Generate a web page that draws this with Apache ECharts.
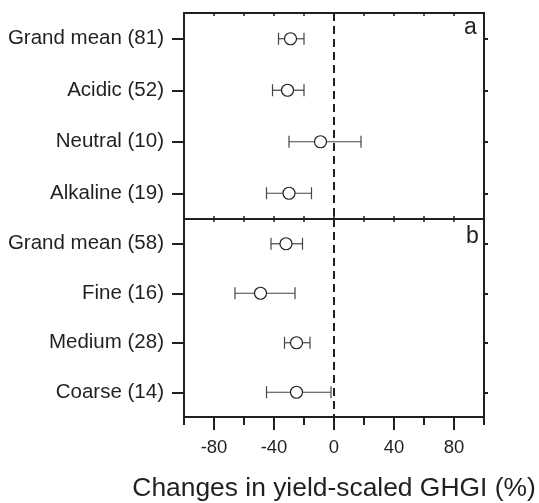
<!DOCTYPE html>
<html>
<head>
<meta charset="utf-8">
<script src="https://cdn.jsdelivr.net/npm/echarts@6/dist/echarts.min.js"></script>
<style>html,body{margin:0;padding:0;background:#fff}#c{width:539px;height:503px}</style>
</head>
<body>
<div id="c"></div>
<script>
// Panel a: soil pH
const catsA = ['Grand mean (81)', 'Acidic (52)', 'Neutral (10)', 'Alkaline (19)'];
const meanA = [-29, -31, -9, -30];
const lowA  = [-37, -41, -30, -45];
const highA = [-20, -20, 18, -15];
// Panel b: soil texture
const catsB = ['Grand mean (58)', 'Fine (16)', 'Medium (28)', 'Coarse (14)'];
const meanB = [-32, -49, -25, -25];
const lowB  = [-42, -66, -33, -45];
const highB = [-21, -26, -16, -2];
// x axis
const xMin = -100, xMax = 100;
const majorTicks = [-80, -40, 0, 40, 80];
const minorTicks = [-100, -60, -20, 20, 60, 100];
const xTitle = 'Changes in yield-scaled GHGI (%)';

const FONT = '"Liberation Sans", Arial, sans-serif';
const INK = '#231f20';

function errData(lo, hi) { return lo.map((l, i) => [i, l, hi[i]]); }
function errRender(params, api) {
  const c = api.value(0);
  const p1 = api.coord([api.value(1), c]);
  const p2 = api.coord([api.value(2), c]);
  const h = 6;
  const st = { stroke: '#444', lineWidth: 1.2 };
  return { type: 'group', children: [
    { type: 'line', shape: { x1: p1[0], y1: p1[1], x2: p2[0], y2: p2[1] }, style: st },
    { type: 'line', shape: { x1: p1[0], y1: p1[1] - h, x2: p1[0], y2: p1[1] + h }, style: st },
    { type: 'line', shape: { x1: p2[0], y1: p2[1] - h, x2: p2[0], y2: p2[1] + h }, style: st }
  ]};
}
const lineStyle = { color: INK, width: 2 };
function xAx(grid, pos, extra) {
  return Object.assign({
    type: 'value', gridIndex: grid, position: pos, min: xMin, max: xMax, interval: 20,
    axisLine: { show: true, onZero: false, lineStyle },
    axisTick: { show: true, inside: true, length: 3, lineStyle: { color: INK, width: 1.5 } },
    axisLabel: { show: false }, splitLine: { show: false }
  }, extra);
}
function yAx(grid, cats, pos, extra) {
  return Object.assign({
    type: 'category', gridIndex: grid, position: pos, data: cats, inverse: true, boundaryGap: true,
    axisLine: { show: true, onZero: false, lineStyle },
    axisTick: { show: true, alignWithLabel: true, length: pos === 'left' ? 12 : 4, lineStyle: { color: INK, width: 2 } },
    axisLabel: { show: pos === 'left', fontFamily: FONT, fontSize: 20.5, color: INK, margin: 20 },
    splitLine: { show: false }
  }, extra);
}

const chart = echarts.init(document.getElementById('c'), null, { renderer: 'canvas' });
chart.setOption({
  backgroundColor: '#fff',
  animation: false,
  grid: [
    { left: 184, top: 13, width: 300, height: 206 },
    { left: 184, top: 219, width: 300, height: 205 }
  ],
  xAxis: [
    xAx(0, 'bottom'),
    xAx(0, 'top'),
    xAx(1, 'bottom', {
      axisTick: { show: true, inside: false, length: 8, lineStyle: { color: INK, width: 2 } },
      axisLabel: { show: true, fontFamily: FONT, fontSize: 18.5, color: INK, margin: 21,
        formatter: v => (majorTicks.indexOf(v) >= 0 ? String(v) : '') },
      name: xTitle, nameLocation: 'middle', nameGap: 59,
      nameTextStyle: { fontFamily: FONT, fontSize: 26.4, color: INK }
    }),
    xAx(1, 'bottom', {
      axisLine: { show: false },
      axisTick: { show: true, inside: false, length: 13, customValues: majorTicks, lineStyle: { color: INK, width: 2 } }
    }),
    xAx(1, 'top')
  ],
  yAxis: [
    yAx(0, catsA, 'left'),
    yAx(0, catsA, 'right'),
    yAx(1, catsB, 'left'),
    yAx(1, catsB, 'right')
  ],
  graphic: [
    { type: 'text', left: 464, top: 16.5, style: { text: 'a', font: '23px ' + FONT, fill: INK } },
    { type: 'text', left: 466, top: 225.5, style: { text: 'b', font: '23px ' + FONT, fill: INK } }
  ],
  series: [
    { type: 'custom', xAxisIndex: 0, yAxisIndex: 0, renderItem: errRender, data: errData(lowA, highA), z: 3,
      markLine: { silent: true, symbol: 'none', label: { show: false },
        lineStyle: { color: INK, type: [8, 5], width: 2 }, data: [{ xAxis: 0 }] } },
    { type: 'custom', xAxisIndex: 2, yAxisIndex: 2, renderItem: errRender, data: errData(lowB, highB), z: 3,
      markLine: { silent: true, symbol: 'none', label: { show: false },
        lineStyle: { color: INK, type: [8, 5], width: 2 }, data: [{ xAxis: 0 }] } },
    { type: 'scatter', xAxisIndex: 0, yAxisIndex: 0, data: meanA.map((m, i) => [m, i]), symbolSize: 12, z: 5,
      itemStyle: { color: '#fff', borderColor: INK, borderWidth: 1.2, opacity: 1 } },
    { type: 'scatter', xAxisIndex: 2, yAxisIndex: 2, data: meanB.map((m, i) => [m, i]), symbolSize: 12, z: 5,
      itemStyle: { color: '#fff', borderColor: INK, borderWidth: 1.2, opacity: 1 } }
  ]
});
</script>
</body>
</html>
